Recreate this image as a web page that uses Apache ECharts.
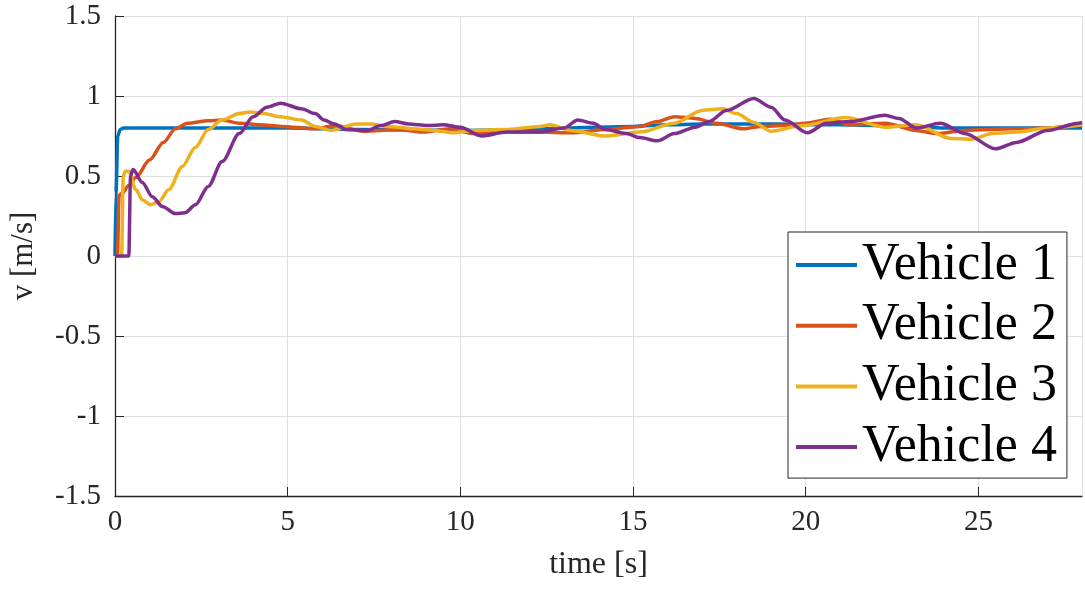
<!DOCTYPE html>
<html>
<head>
<meta charset="utf-8">
<script src="https://cdn.jsdelivr.net/npm/echarts@6/dist/echarts.min.js"></script>
<style>
  html, body { margin: 0; padding: 0; background: #fff; }
  #chart { width: 1085px; height: 593px; }
</style>
</head>
<body>
<div id="chart"></div>
<script>
// [time s, v m/s]
const vehicle1 = [[0,0],[0.03,0.4],[0.08,0.75],[0.15,0.79],[0.25,0.8],[2,0.8],[5,0.8],[7,0.79],[10,0.785],[12,0.79],[13,0.8],[15,0.81],[16,0.82],[17,0.825],[19,0.825],[21,0.82],[23,0.81],[24,0.8],[28,0.8]];
const vehicle2 = [[0,0],[0.07,0],[0.12,0.38],[0.2,0.39],[0.4,0.44],[0.6,0.49],[1.0,0.6],[1.4,0.71],[1.75,0.795],[2.1,0.83],[2.7,0.845],[3.1,0.85],[3.6,0.83],[4.2,0.82],[4.8,0.81],[5.8,0.795],[6.35,0.815],[7.2,0.78],[8.2,0.79],[8.9,0.775],[9.7,0.795],[10.4,0.765],[11.3,0.775],[12.3,0.775],[13.2,0.77],[14.2,0.79],[15.2,0.81],[15.7,0.84],[16.2,0.87],[16.8,0.86],[17.4,0.83],[18.2,0.795],[18.7,0.81],[19.4,0.815],[20.0,0.83],[20.7,0.855],[21.3,0.82],[22.3,0.83],[23.2,0.785],[23.8,0.765],[24.6,0.785],[26.1,0.795],[27,0.8],[28,0.83]];
const vehicle3 = [[0,0],[0.19,0],[0.24,0.5],[0.3,0.53],[0.4,0.53],[0.6,0.415],[0.8,0.35],[1.03,0.32],[1.27,0.34],[1.56,0.415],[1.95,0.56],[2.33,0.68],[2.7,0.79],[3.1,0.85],[3.6,0.89],[3.9,0.9],[4.3,0.89],[4.8,0.87],[5.4,0.85],[5.8,0.81],[6.25,0.785],[7.0,0.825],[7.4,0.825],[7.9,0.81],[8.65,0.795],[9.2,0.785],[9.8,0.77],[10.4,0.785],[11.3,0.79],[12.3,0.81],[12.6,0.82],[13.2,0.785],[14.2,0.75],[15.2,0.775],[16.2,0.83],[17.0,0.91],[17.6,0.92],[18.0,0.89],[18.5,0.835],[19.0,0.78],[19.9,0.815],[21.15,0.865],[22.3,0.805],[23.2,0.82],[24.2,0.735],[24.8,0.73],[25.4,0.765],[26.1,0.775],[27,0.8],[28,0.82]];
const vehicle4 = [[0,0],[0.4,0],[0.45,0.5],[0.52,0.54],[0.79,0.46],[1.08,0.37],[1.37,0.31],[1.75,0.265],[2.03,0.27],[2.33,0.32],[2.7,0.435],[3.1,0.59],[3.6,0.765],[4.0,0.87],[4.4,0.93],[4.8,0.955],[5.4,0.92],[5.8,0.89],[6.05,0.85],[6.35,0.825],[6.7,0.79],[7.3,0.785],[7.7,0.815],[8.1,0.84],[8.5,0.825],[9.05,0.815],[9.5,0.82],[10.0,0.805],[10.6,0.75],[11.35,0.775],[12.3,0.775],[13.0,0.8],[13.4,0.85],[13.85,0.83],[14.2,0.79],[14.8,0.766],[15.2,0.74],[15.7,0.72],[16.2,0.765],[16.8,0.805],[17.2,0.84],[17.7,0.91],[18.5,0.985],[19.0,0.93],[19.4,0.85],[20.05,0.77],[20.6,0.83],[21.3,0.84],[22.3,0.88],[22.7,0.86],[23.2,0.8],[23.9,0.83],[24.6,0.766],[25.5,0.67],[26.1,0.71],[27,0.785],[27.9,0.83],[28,0.835]];

const names = ['Vehicle 1', 'Vehicle 2', 'Vehicle 3', 'Vehicle 4'];
const colors = ['#0072BD', '#D95319', '#EDB120', '#7E2F8E'];
const seriesData = [vehicle1, vehicle2, vehicle3, vehicle4];

const font = 'Liberation Serif';
const axisColor = '#262626';

var chart = echarts.init(document.getElementById('chart'), null, { renderer: 'canvas' });

var option = {
  animation: false,
  grid: { left: 114, top: 16, right: 3, bottom: 97 },
  xAxis: {
    type: 'value',
    min: 0, max: 28, interval: 5,
    name: 'time [s]',
    nameLocation: 'middle',
    nameGap: 53,
    nameTextStyle: { fontFamily: font, fontSize: 32, color: axisColor },
    axisLine: { onZero: false, lineStyle: { color: axisColor, width: 1.3 } },
    axisTick: { inside: true, length: 9, lineStyle: { color: axisColor } },
    axisLabel: { fontFamily: font, fontSize: 29, color: axisColor, margin: 12, showMaxLabel: false },
    splitLine: { show: true, lineStyle: { color: '#dfdfdf', width: 1 } }
  },
  yAxis: {
    type: 'value',
    min: -1.5, max: 1.5, interval: 0.5,
    name: 'v [m/s]',
    nameLocation: 'middle',
    nameGap: 76,
    nameTextStyle: { fontFamily: font, fontSize: 31, color: axisColor },
    axisLine: { show: true, onZero: false, lineStyle: { color: axisColor, width: 1.3 } },
    axisTick: { show: true, inside: true, length: 9, lineStyle: { color: axisColor } },
    axisLabel: { fontFamily: font, fontSize: 29, color: axisColor, margin: 14 },
    splitLine: { show: true, lineStyle: { color: '#dfdfdf', width: 1 } }
  },
  legend: {
    orient: 'vertical',
    left: 788, top: 232,
    padding: [3, 10, 1, 8],
    itemGap: 0.7,
    itemWidth: 61,
    itemHeight: 4,
    icon: 'path://M0,0 L61,0 L61,4 L0,4 Z',
    backgroundColor: '#fff',
    borderColor: axisColor,
    borderWidth: 1,
    borderRadius: 0,
    textStyle: { fontFamily: font, fontSize: 52, color: '#000', lineHeight: 60 },
    data: names
  },
  series: names.map(function (n, i) {
    return {
      name: n,
      type: 'line',
      data: seriesData[i],
      showSymbol: false,
      symbol: 'none',
      smooth: 0.3,
      smoothMonotone: 'x',
      color: colors[i],
      lineStyle: { width: 3.5, color: colors[i] }
    };
  })
};

chart.setOption(option);
window.addEventListener('resize', chart.resize);
</script>
</body>
</html>
